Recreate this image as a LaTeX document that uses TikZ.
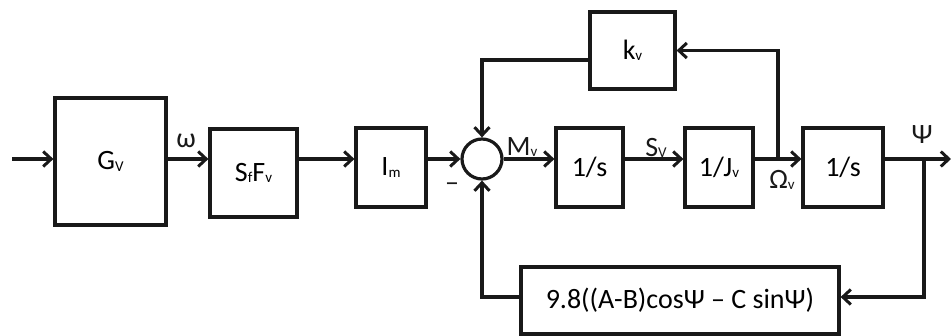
\documentclass[tikz,border=0pt]{standalone}
\usepackage{fontspec}
\setmainfont{Carlito}
\usetikzlibrary{arrows.meta}
\newcommand{\lo}[1]{\raisebox{-1.5pt}{\fontsize{15}{15}\selectfont #1}}
\begin{document}
\begin{tikzpicture}[x=1pt,y=-1pt,
  blk/.style={draw=black!90, line width=3.2pt, fill=white, inner sep=0pt, font=\fontsize{28}{28}\selectfont},
  con/.style={draw=black!90, line width=3.2pt},
  arr/.style={con, -{Straight Barb[length=8pt,width=15pt,line width=3pt]}},
  lbl/.style={font=\fontsize{28}{28}\selectfont, text=black!90, inner sep=0pt}]
\useasboundingbox (0,0) rectangle (951,336);
\fill[white] (0,0) rectangle (951,336);
\coordinate (line) at (0,159);
\coordinate (in) at (12,159);
\coordinate (out) at (951,159);
\node[blk, minimum width=111pt, minimum height=127pt] (G) at (110.5,161.5) {G\lo{V}};
\node[blk, minimum width=87pt, minimum height=88pt] (sf) at (253.5,173) {S\lo{f}F\lo{v}};
\node[blk, minimum width=70pt, minimum height=79pt] (im) at (391,167.5) {I\lo{m}};
\node[draw=black!90, line width=3.2pt, fill=white, circle, minimum size=40pt, inner sep=0pt] (sum) at (482,159) {};
\node[blk, minimum width=67pt, minimum height=79pt] (s1) at (589.5,167.5) {1/s};
\node[blk, minimum width=85pt, minimum height=77pt] (kv) at (632.5,50.5) {k\lo{v}};
\node[blk, minimum width=68pt, minimum height=79pt] (jv) at (719,167.5) {1/J\lo{v}};
\node[blk, minimum width=80pt, minimum height=79pt] (s2) at (843,167.5) {1/s};
\node[blk, minimum width=318pt, minimum height=67pt] (fb) at (680,300.5) {9.8((A-B)cosΨ – C sinΨ)};
\coordinate (om) at (778,159);
\coordinate (ps) at (924,159);
% main path
\draw[arr] (in) -- (G.west |- in);
\draw[arr] (G.east |- line) -- (sf.west |- line);
\draw[arr] (sf.east |- line) -- (im.west |- line);
\draw[arr] (im.east |- line) -- (sum.west);
\draw[arr] (sum.east) -- (s1.west |- line);
\draw[arr] (s1.east |- line) -- (jv.west |- line);
\draw[arr] (jv.east |- line) -- (s2.west |- line);
\draw[arr] (s2.east |- line) -- (out);
% feedback kv
\draw[arr] (om) |- (kv.east);
\draw[arr] ([yshift=-9.5pt]kv.west) -| (sum.north);
% feedback bottom
\draw[arr] (ps) |- ([yshift=3.5pt]fb.east);
\draw[arr] ([yshift=3.5pt]fb.west) -| (sum.south);
% labels
\node[lbl] (lw) at (186,141) {ω};
\node[lbl] (lm) at (522,147) {M\lo{v}};
\node[lbl] (ls) at (656,148) {S\lo{V}};
\node[lbl] (lo) at (782,180) {Ω\lo{v}};
\node[lbl] (lp) at (922,135) {Ψ};
\node[lbl] (lminus) at (452,187) {–};
\end{tikzpicture}
\end{document}
